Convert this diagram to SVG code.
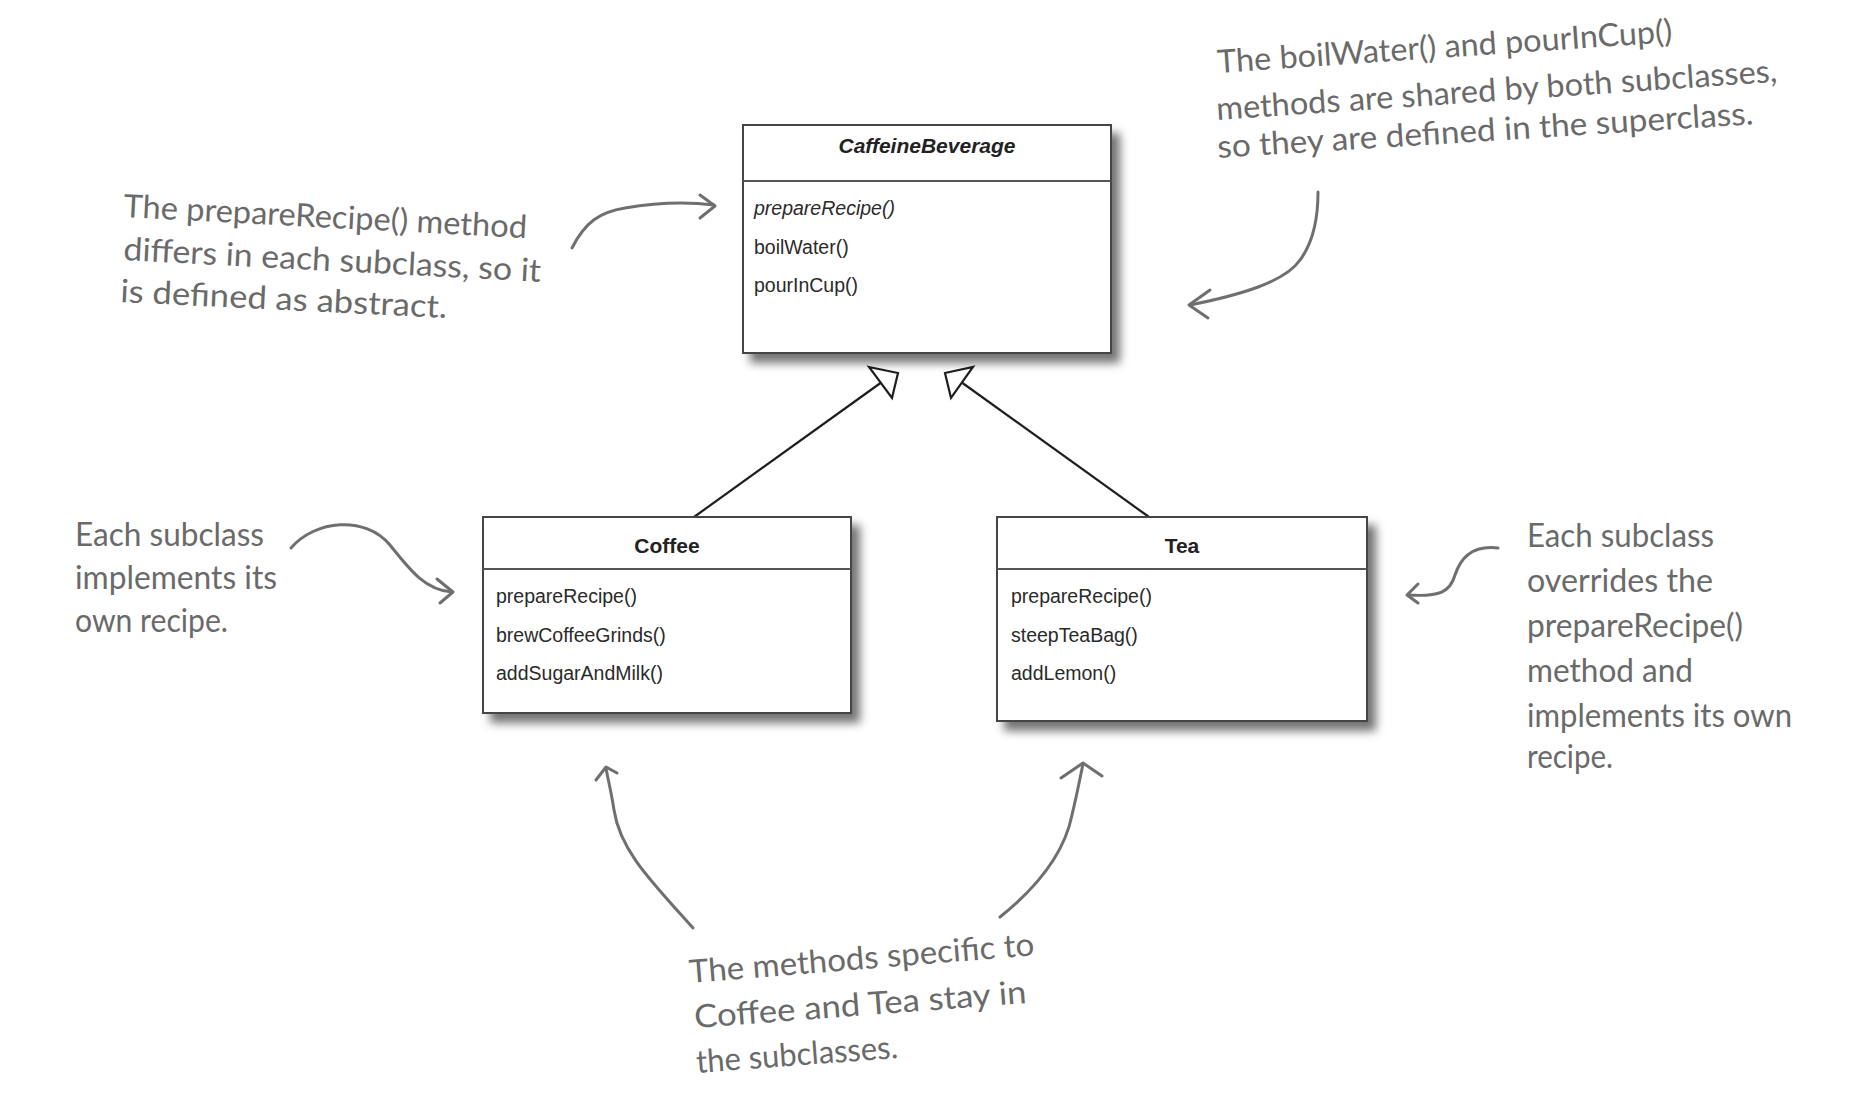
<svg xmlns="http://www.w3.org/2000/svg" width="1858" height="1102" viewBox="0 0 1858 1102">
<defs>
<filter id="shadow" x="-10%" y="-10%" width="130%" height="135%">
<feDropShadow dx="8" dy="9" stdDeviation="5" flood-color="#000" flood-opacity="0.55"/>
</filter>
</defs>
<style>
.box{fill:#fff;stroke:#444;stroke-width:2}
.div{stroke:#555;stroke-width:2}
.title{font-family:"Liberation Sans",Arial,sans-serif;font-size:21px;font-weight:bold;fill:#222;text-anchor:middle}
.m{font-family:"Liberation Sans",Arial,sans-serif;font-size:19.5px;fill:#2a2a2a}
.it{font-style:italic}
.gen{stroke:#1e1e1e;stroke-width:2.2;fill:none}
.tri{fill:#fff;stroke:#1e1e1e;stroke-width:2.2;stroke-linejoin:miter}
.note{font-family:Lato,"Open Sans",sans-serif;font-size:32px;fill:#6a6a6a}
.pen{stroke:#6f6f6f;stroke-width:3;fill:none;stroke-linecap:round;stroke-linejoin:round}
</style>
<rect width="1858" height="1102" fill="#fff"/>

<g id="connectors">
<line class="gen" x1="694" y1="517" x2="880.5" y2="383"/>
<polygon class="tri" points="869,367 898,373 892,398"/>
<line class="gen" x1="1149" y1="517" x2="962.5" y2="383"/>
<polygon class="tri" points="945,373 973,367 951,398"/>
<path class="pen" d="M572,248 C585,222 600,212 625,208 C660,202 690,202 714,205"/>
<path class="pen" d="M700,195 L715,206 L700,218"/>
<path class="pen" d="M1318,192 C1318,215 1315,240 1300,260 C1285,282 1240,295 1190,305"/>
<path class="pen" d="M1210,290 L1189,305 L1208,318"/>
<path class="pen" d="M291,548 C315,520 365,515 390,545 C410,570 425,590 452,592"/>
<path class="pen" d="M437,579 L453,592 L440,603"/>
<path class="pen" d="M1498,548 C1470,545 1460,560 1455,575 C1450,592 1440,597 1408,595"/>
<path class="pen" d="M1418,584 L1407,595 L1418,603"/>
<path class="pen" d="M693,928 C650,880 620,850 614,810 C611,790 608,780 606,768"/>
<path class="pen" d="M596,780 L606,767 L617,773"/>
<path class="pen" d="M1000,917 C1040,885 1065,850 1072,815 C1078,790 1080,778 1083,764"/>
<path class="pen" d="M1061,778 L1083,763 L1102,776"/>
</g>

<g id="CaffeineBeverage">
<rect class="box" x="743" y="125" width="368" height="228" filter="url(#shadow)"/>
<line class="div" x1="743" y1="181" x2="1111" y2="181"/>
<text class="title it" x="927" y="153">CaffeineBeverage</text>
<text class="m it" x="754" y="215">prepareRecipe()</text>
<text class="m" x="754" y="254">boilWater()</text>
<text class="m" x="754" y="292">pourInCup()</text>
</g>

<g id="Coffee">
<rect class="box" x="483" y="517" width="368" height="196" filter="url(#shadow)"/>
<line class="div" x1="483" y1="569" x2="851" y2="569"/>
<text class="title" x="667" y="553">Coffee</text>
<text class="m" x="496" y="603">prepareRecipe()</text>
<text class="m" x="496" y="642">brewCoffeeGrinds()</text>
<text class="m" x="496" y="680">addSugarAndMilk()</text>
</g>

<g id="Tea">
<rect class="box" x="997" y="517" width="370" height="204" filter="url(#shadow)"/>
<line class="div" x1="997" y1="569" x2="1367" y2="569"/>
<text class="title" x="1182" y="553">Tea</text>
<text class="m" x="1011" y="603">prepareRecipe()</text>
<text class="m" x="1011" y="642">steepTeaBag()</text>
<text class="m" x="1011" y="680">addLemon()</text>
</g>

<g id="note-abstract">
<text class="note" transform="translate(123,217) rotate(3)" textLength="404" lengthAdjust="spacingAndGlyphs">The prepareRecipe() method</text>
<text class="note" transform="translate(123,260) rotate(3)" textLength="418" lengthAdjust="spacingAndGlyphs">differs in each subclass, so it</text>
<text class="note" transform="translate(120,302) rotate(2.8)" textLength="327" lengthAdjust="spacingAndGlyphs">is defined as abstract.</text>
</g>

<g id="note-shared">
<text class="note" transform="translate(1218,73) rotate(-3.9)" textLength="456" lengthAdjust="spacingAndGlyphs">The boilWater() and pourInCup()</text>
<text class="note" transform="translate(1217,120) rotate(-3.9)" textLength="562" lengthAdjust="spacingAndGlyphs">methods are shared by both subclasses,</text>
<text class="note" transform="translate(1218,158) rotate(-3.6)" textLength="537" lengthAdjust="spacingAndGlyphs">so they are defined in the superclass.</text>
</g>

<g id="note-implements">
<text class="note" x="75" y="546" textLength="189" lengthAdjust="spacingAndGlyphs">Each subclass</text>
<text class="note" x="75" y="589" textLength="202" lengthAdjust="spacingAndGlyphs">implements its</text>
<text class="note" x="75" y="632" textLength="153" lengthAdjust="spacingAndGlyphs">own recipe.</text>
</g>

<g id="note-overrides">
<text class="note" x="1527" y="547" textLength="187" lengthAdjust="spacingAndGlyphs">Each subclass</text>
<text class="note" x="1527" y="592" textLength="186" lengthAdjust="spacingAndGlyphs">overrides the</text>
<text class="note" x="1527" y="637" textLength="216" lengthAdjust="spacingAndGlyphs">prepareRecipe()</text>
<text class="note" x="1527" y="682" textLength="166" lengthAdjust="spacingAndGlyphs">method and</text>
<text class="note" x="1527" y="727" textLength="265" lengthAdjust="spacingAndGlyphs">implements its own</text>
<text class="note" x="1527" y="768" textLength="86" lengthAdjust="spacingAndGlyphs">recipe.</text>
</g>

<g id="note-specific">
<text class="note" transform="translate(690,983) rotate(-4.6)" textLength="346" lengthAdjust="spacingAndGlyphs">The methods specific to</text>
<text class="note" transform="translate(695,1028) rotate(-4.3)" textLength="333" lengthAdjust="spacingAndGlyphs">Coffee and Tea stay in</text>
<text class="note" transform="translate(697,1073) rotate(-4.3)" textLength="202" lengthAdjust="spacingAndGlyphs">the subclasses.</text>
</g>
</svg>
